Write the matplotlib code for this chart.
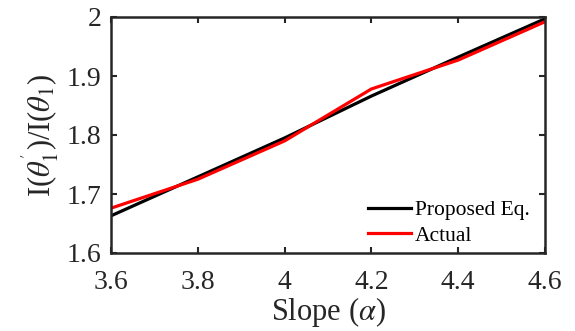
import matplotlib
matplotlib.use("Agg")
import matplotlib.pyplot as plt

plt.rcParams['font.family'] = ['Liberation Serif', 'DejaVu Serif']
plt.rcParams['mathtext.fontset'] = 'stix'

slope = [3.6, 3.8, 4.0, 4.2, 4.4, 4.6]
proposed = [1.663, 1.729, 1.795, 1.866, 1.932, 1.997]
actual = [1.676, 1.725, 1.790, 1.878, 1.927, 1.992]
xticks = [3.6, 3.8, 4.0, 4.2, 4.4, 4.6]
xticklabels = ['3.6', '3.8', '4', '4.2', '4.4', '4.6']
yticks = [1.6, 1.7, 1.8, 1.9, 2.0]
yticklabels = ['1.6', '1.7', '1.8', '1.9', '2']

fig = plt.figure(figsize=(5.75, 3.31), dpi=100)
ax = fig.add_axes([111/575, 1 - 253/331, 434/575, 236/331])
ax.plot(slope, proposed, color='black', lw=2.3, label='Proposed Eq.')
ax.plot(slope, actual, color='#ff0000', lw=2.3, label='Actual')
ax.set_xlim(3.6, 4.6)
ax.set_ylim(1.6, 2.0)
ax.set_xticks(xticks)
ax.set_xticklabels(xticklabels)
ax.set_yticks(yticks)
ax.set_yticklabels(yticklabels)
ax.tick_params(direction='in', length=4, width=1.5, labelsize=20, colors='#262626',
               top=True, right=True)
ax.tick_params(axis='x', pad=12)
ax.tick_params(axis='y', pad=7)
for s in ax.spines.values():
    s.set_linewidth(1.8)
    s.set_color('#262626')
ax.set_xlabel(r'Slope ($\alpha$)', fontsize=22, color='#262626', labelpad=0)
ax.set_ylabel(r"I($\theta_1^{'}$)/I($\theta_1$)", fontsize=22, color='#262626', labelpad=4)
leg = ax.legend(loc='lower right', bbox_to_anchor=(0.985, -0.005), frameon=False,
                fontsize=15.5, handlelength=2.0, handletextpad=0.2,
                labelspacing=0.25, borderaxespad=0)
fig.savefig('out.png', dpi=100)
